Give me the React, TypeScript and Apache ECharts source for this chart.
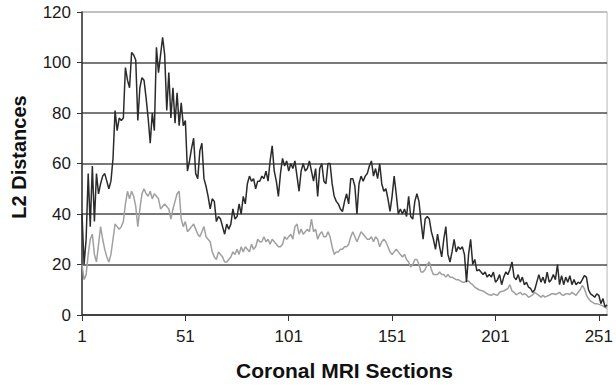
import React, { useEffect, useRef } from "react";
import * as echarts from "echarts";

const sections: string[] = Array.from({ length: 255 }, (_, i) => String(i + 1));

const yTicks = [0, 20, 40, 60, 80, 100, 120];

const blackSeries: number[] = [
  40, 20, 30, 56, 35, 59, 37, 56, 48, 52,
  55, 56, 53, 50, 53, 62, 81, 73, 78, 77,
  78, 98, 93, 90, 104, 103, 101, 77, 90, 94,
  93, 86, 78, 68, 80, 73, 106, 96, 103, 110,
  103, 81, 96, 78, 90, 76, 88, 75, 84, 75,
  77, 57, 61, 66, 70, 56, 54, 65, 68, 54,
  51, 47, 42, 46, 45, 37, 39, 38, 35, 32,
  36, 34, 36, 42, 38, 39, 44, 40, 47, 44,
  52, 55, 53, 54, 50, 53, 53, 55, 54, 57,
  53, 61, 67, 57, 53, 47, 56, 62, 59, 61,
  57, 60, 58, 61, 55, 49, 57, 60, 57, 58,
  61, 57, 53, 58, 47, 58, 60, 53, 52, 60,
  60, 52, 47, 45, 44, 42, 41, 45, 48, 44,
  54, 54, 51, 40, 52, 55, 53, 55, 56, 59,
  61, 55, 58, 54, 60, 52, 49, 50, 46, 41,
  47, 55, 48, 40, 42, 40, 42, 39, 47, 39,
  38, 45, 48, 45, 37, 30, 38, 39, 38, 33,
  30, 26, 32, 27, 23, 30, 35, 24, 21, 25,
  30, 25, 27, 26, 27, 24, 13, 24, 30, 20,
  22, 17.5, 18, 17, 16, 17, 15, 16, 15, 17,
  13, 14, 16, 12, 15, 17, 16, 18, 21, 15,
  14, 16, 13, 15, 12, 13, 11, 10.5, 9, 10,
  13, 16, 13, 15, 12.5, 17, 13, 14, 16, 14,
  20, 12, 15.6, 12, 15, 13, 15.6, 12, 14, 12,
  13, 12.5, 14, 15.6, 15, 10, 8.4, 7.8, 7, 8.4,
  7.8, 4.5, 6.5, 3.2, 4,
];

const graySeries: number[] = [
  20, 14, 16, 24, 30, 32, 24, 21, 28, 35,
  30, 26, 23, 21, 24, 30, 36, 35, 34, 35,
  37, 44, 49, 46, 49, 47, 43, 35, 42, 48,
  50, 48, 47, 49, 46, 48, 47, 46, 42, 43,
  44, 43, 42, 38, 42, 45, 48, 49, 38, 35,
  37, 33, 34, 35, 36, 34, 32, 31, 33, 35,
  31, 30, 29, 25, 23, 22, 25, 24, 23, 21,
  21, 22, 23, 25, 24, 26, 24, 27, 25, 27,
  26, 25, 28, 26, 27, 30, 29, 29, 31, 29,
  30, 28, 30, 29, 28, 27, 27, 28, 31, 30,
  31, 32, 30, 35, 36, 32, 34, 32, 33, 34,
  33, 38, 33, 34, 30, 32, 33, 31, 31, 33,
  31, 27, 24, 25, 25, 26, 26, 27, 27, 28,
  31, 33, 31, 29, 31, 33, 32, 31, 30, 30,
  31, 29, 31, 30, 27, 29, 30, 29, 27, 25,
  24, 25, 26, 25, 24, 23, 24, 22, 21, 19,
  20, 22, 22, 20, 17, 17, 18, 20, 21, 18,
  16, 16, 16, 17, 16, 16, 15, 16, 15, 15,
  14.5, 14, 14, 13.5, 13, 13, 13.5, 13.5, 12.5, 12,
  11, 10.5, 10, 9.7, 9.5, 9, 8.4, 8, 7.8, 8.4,
  8, 7.8, 9, 9.3, 9.5, 10, 10.5, 12, 9.5, 9,
  8, 8.5, 9, 8, 8.4, 8, 7, 7.5, 8, 9,
  8.4, 7.8, 7.1, 7.8, 7.1, 7.5, 7.8, 8.4, 8.4, 8.1,
  8.5, 9, 8, 7.8, 8.4, 8.4, 8.1, 9, 8.4, 7.8,
  9, 10, 11.7, 10.4, 8, 6.5, 5.5, 5, 4.5, 4.5,
  4.2, 3.9, 3.6, 3, 2.6,
];

const xTitle = "Coronal MRI Sections";
const yTitle = "L2 Distances";

export default function App() {
  const ref = useRef<HTMLDivElement>(null);

  useEffect(() => {
    if (!ref.current) return;
    const chart = echarts.init(ref.current, undefined, { renderer: "svg" });
    const font = "Liberation Sans, Arial, Helvetica, sans-serif";
    chart.setOption({
      animation: false,
      backgroundColor: "#ffffff",
      grid: {
        left: 82,
        right: 4,
        top: 12,
        bottom: 66,
        show: true,
        borderColor: "#b8b8b8",
        borderWidth: 1,
      },
      xAxis: {
        type: "category",
        data: sections,
        boundaryGap: false,
        axisLine: { lineStyle: { color: "#333", width: 1.5 } },
        axisTick: {
          interval: 49,
          length: 6,
          lineStyle: { color: "#333", width: 1 },
        },
        axisLabel: {
          interval: 49,
          color: "#1a1a1a",
          fontSize: 17,
          fontFamily: font,
          margin: 13,
        },
        splitLine: { show: false },
        name: xTitle,
        nameLocation: "middle",
        nameGap: 45,
        nameTextStyle: {
          fontSize: 21,
          fontWeight: "bold",
          color: "#111",
          fontFamily: font,
        },
      },
      yAxis: {
        type: "value",
        min: 0,
        max: 120,
        interval: 20,
        axisLine: { show: true, lineStyle: { color: "#333", width: 1.5 } },
        axisTick: { show: true, length: 5, lineStyle: { color: "#333" } },
        axisLabel: {
          color: "#1a1a1a",
          fontSize: 17,
          fontFamily: font,
          margin: 11,
          formatter: (v: number) => (yTicks.includes(v) ? String(v) : ""),
        },
        splitLine: {
          show: true,
          lineStyle: {
            color: ["#4d4d4d", "#4d4d4d", "#4d4d4d", "#4d4d4d", "#4d4d4d", "#4d4d4d", "#b8b8b8"],
            width: 1.6,
          },
        },
      },
      graphic: [
        {
          type: "text",
          x: 19,
          y: 157,
          rotation: Math.PI / 2,
          style: {
            text: yTitle,
            fontSize: 20,
            fontWeight: "bold",
            fill: "#111",
            fontFamily: font,
            textAlign: "center",
            textVerticalAlign: "middle",
          },
        },
      ],
      series: [
        {
          type: "line",
          data: graySeries,
          showSymbol: false,
          lineStyle: { color: "#a0a0a0", width: 1.5 },
          z: 2,
        },
        {
          type: "line",
          data: blackSeries,
          showSymbol: false,
          lineStyle: { color: "#2b2b2b", width: 1.5 },
          z: 3,
        },
      ],
    });
    return () => chart.dispose();
  }, []);

  return (
    <div
      ref={ref}
      style={{ position: "absolute", left: 0, top: 0, width: 616, height: 386 }}
    />
  );
}
